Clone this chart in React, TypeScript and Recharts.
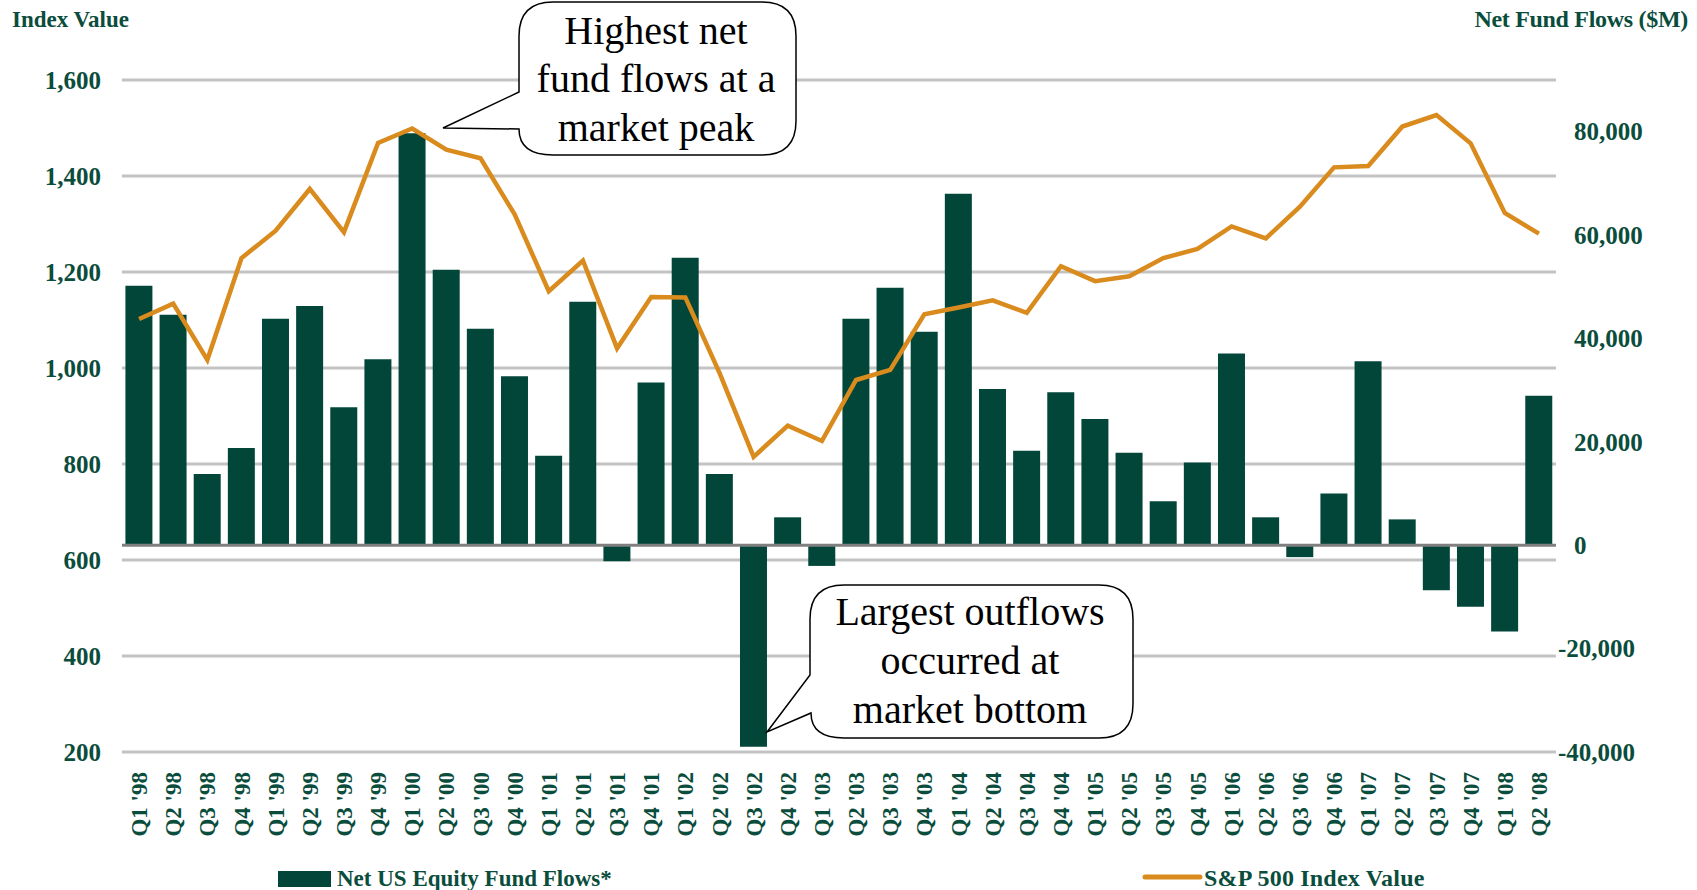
import { ComposedChart, Bar, Line, XAxis, YAxis, CartesianGrid, ReferenceLine } from 'recharts'

const quarters = [
  "Q1 '98", "Q2 '98", "Q3 '98", "Q4 '98",
  "Q1 '99", "Q2 '99", "Q3 '99", "Q4 '99",
  "Q1 '00", "Q2 '00", "Q3 '00", "Q4 '00",
  "Q1 '01", "Q2 '01", "Q3 '01", "Q4 '01",
  "Q1 '02", "Q2 '02", "Q3 '02", "Q4 '02",
  "Q1 '03", "Q2 '03", "Q3 '03", "Q4 '03",
  "Q1 '04", "Q2 '04", "Q3 '04", "Q4 '04",
  "Q1 '05", "Q2 '05", "Q3 '05", "Q4 '05",
  "Q1 '06", "Q2 '06", "Q3 '06", "Q4 '06",
  "Q1 '07", "Q2 '07", "Q3 '07", "Q4 '07",
  "Q1 '08", "Q2 '08",
]

// S&P 500 index value (left axis)
const sp500 = [
  1102, 1134, 1017, 1229,
  1286, 1373, 1283, 1469,
  1499, 1455, 1437, 1320,
  1160, 1224, 1041, 1148,
  1147, 990, 815, 880,
  848, 975, 996, 1112,
  1126, 1141, 1115, 1212,
  1181, 1191, 1229, 1248,
  1295, 1270, 1336, 1418,
  1421, 1503, 1527, 1468,
  1323, 1280,
]

// net US equity fund flows, $M (right axis)
const fundFlows = [
  50200, 44600, 13800, 18800,
  43800, 46300, 26700, 36000,
  79700, 53300, 41900, 32700,
  17300, 47100, -3100, 31500,
  55600, 13800, -39000, 5400,
  -4000, 43800, 49800, 41300,
  68000, 30200, 18300, 29600,
  24400, 17900, 8500, 16000,
  37100, 5400, -2300, 10000,
  35600, 5000, -8700, -11900,
  -16700, 28900,
]

const leftTicks = [200, 400, 600, 800, 1000, 1200, 1400, 1600]
const rightTicks = [-40000, -20000, 0, 20000, 40000, 60000, 80000]

const data = quarters.map((q, i) => ({ q, sp: sp500[i], flows: fundFlows[i] }))

const GREEN = '#02463a'
const TEXT = '#0b4d3c'
const ORANGE = '#d98b1e'
const FONT = "'Liberation Serif', 'Times New Roman', serif"

const LeftTick = (props: any) => (
  <text x={101} y={props.y} dy="0.35em" textAnchor="end" fill={TEXT}
    style={{ fontFamily: FONT, fontWeight: 700, fontSize: 25 }}>
    {props.payload.value.toLocaleString('en-US')}
  </text>
)

const RightTick = (props: any) => {
  const v = props.payload.value
  return (
    <text x={v < 0 ? 1558 : 1574} y={props.y} dy="0.35em" textAnchor="start" fill={TEXT}
      style={{ fontFamily: FONT, fontWeight: 700, fontSize: 25 }}>
      {v.toLocaleString('en-US')}
    </text>
  )
}

const QuarterTick = (props: any) => (
  <text x={props.x} y={772} dy="0.35em" textAnchor="end" fill={TEXT}
    transform={`rotate(-90, ${props.x}, 772)`}
    style={{ fontFamily: FONT, fontWeight: 700, fontSize: 23 }}>
    {props.payload.value}
  </text>
)

export default function App() {
  const calloutText = { fontFamily: FONT, fontSize: 40, fill: '#000' }
  return (
    <div style={{ position: 'absolute', left: 0, top: 0, width: 1697, height: 890, background: '#fff', overflow: 'hidden' }}>
      <ComposedChart width={1697} height={890} data={data}
        margin={{ top: 80, right: 0, bottom: 0, left: 0 }} barCategoryGap="10%">
        <CartesianGrid yAxisId="left" vertical={false} stroke="#c3c3c3" strokeWidth={3} />
        <XAxis dataKey="q" interval={0} height={138} axisLine={false} tickLine={false} tick={QuarterTick} />
        <YAxis yAxisId="left" domain={[200, 1600]} ticks={leftTicks} width={122}
          axisLine={false} tickLine={false} tick={LeftTick} />
        <YAxis yAxisId="right" orientation="right" domain={[-40000, 90000]} ticks={rightTicks} width={141}
          axisLine={false} tickLine={false} tick={RightTick} />
        <Bar yAxisId="right" dataKey="flows" fill={GREEN} isAnimationActive={false} />
        <ReferenceLine yAxisId="right" y={0} stroke="#808080" strokeWidth={3} />
        <Line yAxisId="left" dataKey="sp" type="linear" stroke={ORANGE} strokeWidth={4.5}
          dot={false} isAnimationActive={false} />
      </ComposedChart>

      <svg width={1697} height={890} style={{ position: 'absolute', left: 0, top: 0, pointerEvents: 'none' }}>
        {/* axis titles */}
        <text x={12} y={27} fill={TEXT} style={{ fontFamily: FONT, fontWeight: 700, fontSize: 23 }}>Index Value</text>
        <text x={1688} y={27} textAnchor="end" fill={TEXT} style={{ fontFamily: FONT, fontWeight: 700, fontSize: 24, letterSpacing: -0.3 }}>Net Fund Flows ($M)</text>

        {/* legend */}
        <rect x={278} y={871} width={53} height={16} fill={GREEN} />
        <text x={337} y={886} fill={TEXT} style={{ fontFamily: FONT, fontWeight: 700, fontSize: 23 }}>Net US Equity Fund Flows*</text>
        <line x1={1145} y1={877} x2={1200} y2={877} stroke={ORANGE} strokeWidth={5} strokeLinecap="round" />
        <text x={1204} y={886} fill={TEXT} style={{ fontFamily: FONT, fontWeight: 700, fontSize: 24, letterSpacing: 0.2 }}>S&amp;P 500 Index Value</text>

        {/* callout: market peak */}
        <path d="M553,2 H762 Q796,2 796,36 V121 Q796,155 762,155 H553 Q519,155 519,129 L443,128 L519,92 V36 Q519,2 553,2 Z"
          fill="#fff" stroke="#000" strokeWidth={1.5} />
        <text x={656} y={44} textAnchor="middle" style={calloutText}>Highest net</text>
        <text x={656} y={92} textAnchor="middle" style={calloutText}>fund flows at a</text>
        <text x={656} y={141} textAnchor="middle" style={calloutText}>market peak</text>

        {/* callout: market bottom */}
        <path d="M844,585 H1099 Q1133,585 1133,619 V704 Q1133,738 1099,738 H844 Q811,738 811,713 L767,732 L810,675 V619 Q810,585 844,585 Z"
          fill="#fff" stroke="#000" strokeWidth={1.5} />
        <text x={970} y={625} textAnchor="middle" style={calloutText}>Largest outflows</text>
        <text x={970} y={674} textAnchor="middle" style={calloutText}>occurred at</text>
        <text x={970} y={723} textAnchor="middle" style={calloutText}>market bottom</text>
      </svg>
    </div>
  )
}
